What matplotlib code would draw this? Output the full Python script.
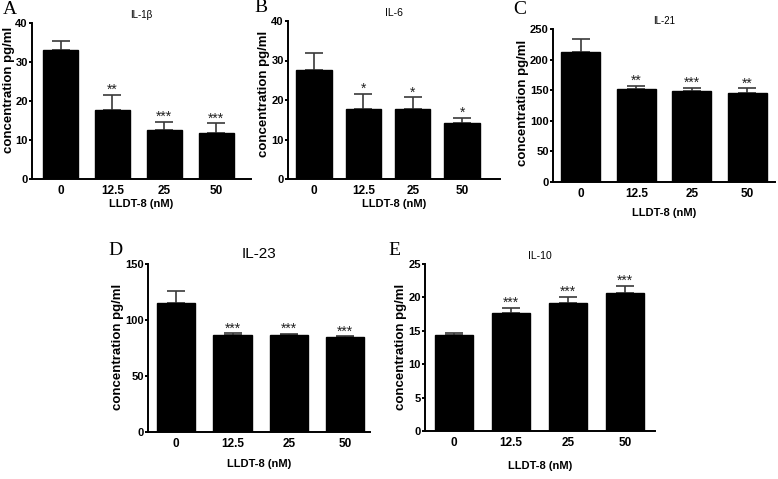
import numpy as np
import matplotlib.pyplot as plt

plt.rcParams["font.family"] = ["Liberation Sans", "DejaVu Sans"]

doses = ["0", "12.5", "25", "50"]

il1b_mean = [33.0, 17.7, 12.5, 11.9]
il1b_sem = [2.5, 3.8, 2.2, 2.4]
il1b_sig = ["", "**", "***", "***"]

il6_mean = [27.5, 17.7, 17.8, 14.1]
il6_sem = [4.3, 3.9, 2.9, 1.4]
il6_sig = ["", "*", "*", "*"]

il21_mean = [213, 152, 148, 145]
il21_sem = [21, 5, 6, 8]
il21_sig = ["", "**", "***", "**"]

il23_mean = [115, 87, 87, 85]
il23_sem = [11, 1.0, 0.8, 0.4]
il23_sig = ["", "***", "***", "***"]

il10_mean = [14.3, 17.6, 19.2, 20.7]
il10_sem = [0.3, 0.8, 0.9, 1.0]
il10_sig = ["", "***", "***", "***"]

W, H = 778, 479
fig = plt.figure(figsize=(W / 100, H / 100), dpi=100)

# layout in pixels: axes box (left, right, top, bottom), ylabel right edge / centre, letter centre
panels = [
    dict(letter="A", title="IL-1\u03b2", tsize=7, mean=il1b_mean, sem=il1b_sem, sig=il1b_sig,
         ymax=40, ystep=10, box=(32, 251, 23, 179), xlim=(-0.55, 3.67), width=0.67,
         xpad=1.5, ylab=(15, 90), lpos=(10, 10)),
    dict(letter="B", title="IL-6", tsize=7.5, mean=il6_mean, sem=il6_sem, sig=il6_sig,
         ymax=40, ystep=10, box=(288, 500, 21, 179), xlim=(-0.53, 3.77), width=0.72,
         xpad=1.5, ylab=(270, 94), lpos=(261, 8)),
    dict(letter="C", title="IL-21", tsize=7, mean=il21_mean, sem=il21_sem, sig=il21_sig,
         ymax=250, ystep=50, box=(553, 775, 29, 182), xlim=(-0.5, 3.5), width=0.7,
         xpad=6, ylab=(529, 103), lpos=(520, 10)),
    dict(letter="D", title="IL-23", tsize=11, mean=il23_mean, sem=il23_sem, sig=il23_sig,
         ymax=150, ystep=50, box=(148, 370, 264, 432), xlim=(-0.5, 3.44), width=0.68,
         xpad=7, ylab=(124, 347), lpos=(115, 250)),
    dict(letter="E", title="IL-10", tsize=7.5, mean=il10_mean, sem=il10_sem, sig=il10_sig,
         ymax=25, ystep=5, box=(425, 655, 264, 431), xlim=(-0.51, 3.53), width=0.67,
         xpad=9, ylab=(407, 347), lpos=(394, 250)),
]

for p in panels:
    left, right, top, bottom = p["box"]
    ax = fig.add_axes([left / W, 1 - bottom / H, (right - left) / W, (bottom - top) / H])
    x = np.arange(len(doses))
    mean, sem = p["mean"], p["sem"]
    ax.bar(x, mean, width=p["width"], color="black", edgecolor="black", zorder=2)
    ax.errorbar(x, mean, yerr=[np.zeros(len(sem)), sem], fmt="none",
                ecolor="#3a3a3a", elinewidth=1.2, capsize=6.5, capthick=1.2, zorder=1)
    for xi, m, s, st in zip(x, mean, sem, p["sig"]):
        if st:
            ax.annotate(st, (xi, m + s), xytext=(0, -1.5), textcoords="offset points",
                        ha="center", va="bottom", fontsize=10, color="#222222")
    ax.set_xlim(*p["xlim"])
    ax.set_ylim(0, p["ymax"])
    ax.set_yticks(np.arange(0, p["ymax"] + 1, p["ystep"]))
    ax.set_xticks(x)
    ax.set_xticklabels(doses)
    for sp in ["top", "right"]:
        ax.spines[sp].set_visible(False)
    for sp in ["left", "bottom"]:
        ax.spines[sp].set_linewidth(1.4)
    ax.tick_params(axis="y", direction="out", length=2.5, width=1.4, pad=0.5,
                   labelsize=8)
    ax.tick_params(axis="x", length=0, pad=4, labelsize=8.5)
    for lab in ax.get_xticklabels() + ax.get_yticklabels():
        lab.set_fontweight("bold")
    ax.set_ylabel("concentration pg/ml", fontsize=9.5, fontweight="bold")
    cx, cy = p["ylab"]
    ax.yaxis.set_label_coords((cx - left) / (right - left), (bottom - cy) / (bottom - top))
    ax.set_xlabel("LLDT-8 (nM)", fontsize=8, fontweight="bold", labelpad=p["xpad"])
    ax.text(0.5, 1.02, p["title"], transform=ax.transAxes, ha="center", va="bottom",
            fontsize=p["tsize"])
    fig.text(p["lpos"][0] / W, 1 - p["lpos"][1] / H, p["letter"], ha="center",
             va="center", fontsize=14, family="Liberation Serif")

fig.savefig("out.png", dpi=100)
